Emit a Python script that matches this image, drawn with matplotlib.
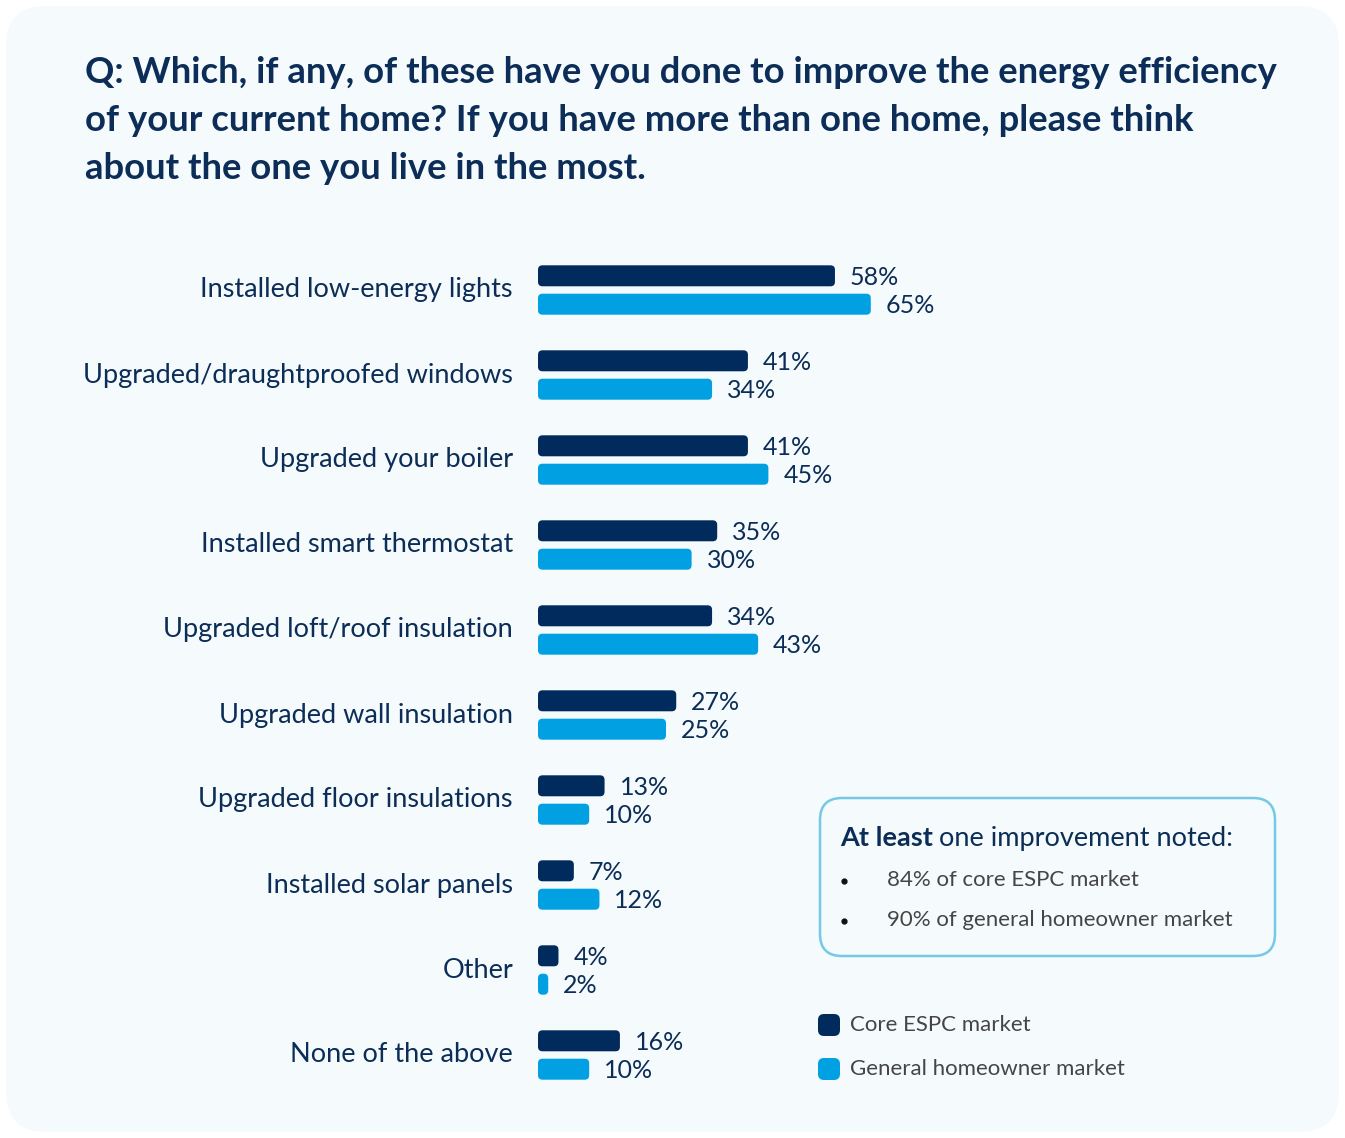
import numpy as np
import matplotlib.pyplot as plt
from matplotlib.patches import FancyBboxPatch

plt.rcParams['font.family'] = ['Lato', 'DejaVu Sans']

categories = [
    "Installed low-energy lights",
    "Upgraded/draughtproofed windows",
    "Upgraded your boiler",
    "Installed smart thermostat",
    "Upgraded loft/roof insulation",
    "Upgraded wall insulation",
    "Upgraded floor insulations",
    "Installed solar panels",
    "Other",
    "None of the above",
]
core_espc = [58, 41, 41, 35, 34, 27, 13, 7, 4, 16]
general_home = [65, 34, 45, 30, 43, 25, 10, 12, 2, 10]
series_names = ["Core ESPC market", "General homeowner market"]

title = ("Q: Which, if any, of these have you done to improve the energy efficiency\n"
         "of your current home? If you have more than one home, please think\n"
         "about the one you live in the most.")
summary_items = ["84% of core ESPC market", "90% of general homeowner market"]

NAVY = "#002b5c"
BLUE = "#00a0e2"
TEXT = "#0c2d57"
GREY = "#454545"
CARD = "#f5fbfc"

W, H = 1345, 1138
fig = plt.figure(figsize=(W / 100, H / 100), dpi=100)
fig.patch.set_facecolor("white")

# page axes in pixel units for the card, title and side panel
bg = fig.add_axes([0, 0, 1, 1])
bg.set_xlim(0, W)
bg.set_ylim(H, 0)
bg.axis("off")
bg.add_patch(FancyBboxPatch((6, 6), W - 12, H - 12,
                            boxstyle="round,pad=0,rounding_size=40",
                            fc=CARD, ec="none"))

for k, line in enumerate(title.split("\n")):
    bg.text(85, 72 + k * 48, line, fontsize=26.2, fontweight="bold",
            color=TEXT, va="center", ha="left")

# summary box
bg.add_patch(FancyBboxPatch((820, 798), 455, 158,
                            boxstyle="round,pad=0,rounding_size=22",
                            fc="none", ec="#74c9e6", lw=1.8))
t1 = bg.text(840, 838, "At least", fontsize=19.5, fontweight="bold",
             color=TEXT, va="center", ha="left")
fig.canvas.draw()
bb = t1.get_window_extent()
bg.text(840 + bb.width + 6, 838, "one improvement noted:", fontsize=19.5,
        color=TEXT, va="center", ha="left")
for k, item in enumerate(summary_items):
    yy = 880 + k * 40
    bg.plot(844, yy + 1, "o", ms=3.5, color="#111111")
    bg.text(887, yy, item, fontsize=16, color=GREY, va="center", ha="left")

# legend
for k, (name, col) in enumerate(zip(series_names, [NAVY, BLUE])):
    yy = 1025 + k * 44
    bg.add_patch(FancyBboxPatch((818, yy - 11), 22, 22,
                                boxstyle="round,pad=0,rounding_size=6",
                                fc=col, ec="none"))
    bg.text(850, yy, name, fontsize=16, color=GREY, va="center", ha="left")

# bar axes: x in percent, y in category units
px_per_pct = 5.12
x0_px, top_px, pitch_px = 538, 247.5, 85.0
bot_px = top_px + pitch_px * len(categories)
ax = fig.add_axes([x0_px / W, 1 - bot_px / H, 100 * px_per_pct / W,
                   (bot_px - top_px) / H])
ax.set_xlim(0, 100)
ax.set_ylim(len(categories) - 0.5, -0.5)
ax.axis("off")

aspect = (1 / pitch_px) / (1 / px_per_pct)
bar_h = 21 / pitch_px
offset = 14.2 / pitch_px
r = 4.5 / px_per_pct

y = np.arange(len(categories))
for i in range(len(categories)):
    for val, col, dy in ((core_espc[i], NAVY, -offset), (general_home[i], BLUE, offset)):
        rs = min(r, val / 2)
        ax.add_patch(FancyBboxPatch((0, y[i] + dy - bar_h / 2), val, bar_h,
                                    boxstyle=f"round,pad=0,rounding_size={rs}",
                                    mutation_aspect=aspect, fc=col, ec="none",
                                    clip_on=False))
        ax.text(val + 15 / px_per_pct, y[i] + dy + 1.5 / pitch_px, f"{val}%",
                fontsize=18, color=TEXT, va="center", ha="left")
    ax.text(-25 / px_per_pct, y[i], categories[i], fontsize=19.5, color=TEXT,
            va="center", ha="right")

fig.savefig("out.png", dpi=100, facecolor="white")
